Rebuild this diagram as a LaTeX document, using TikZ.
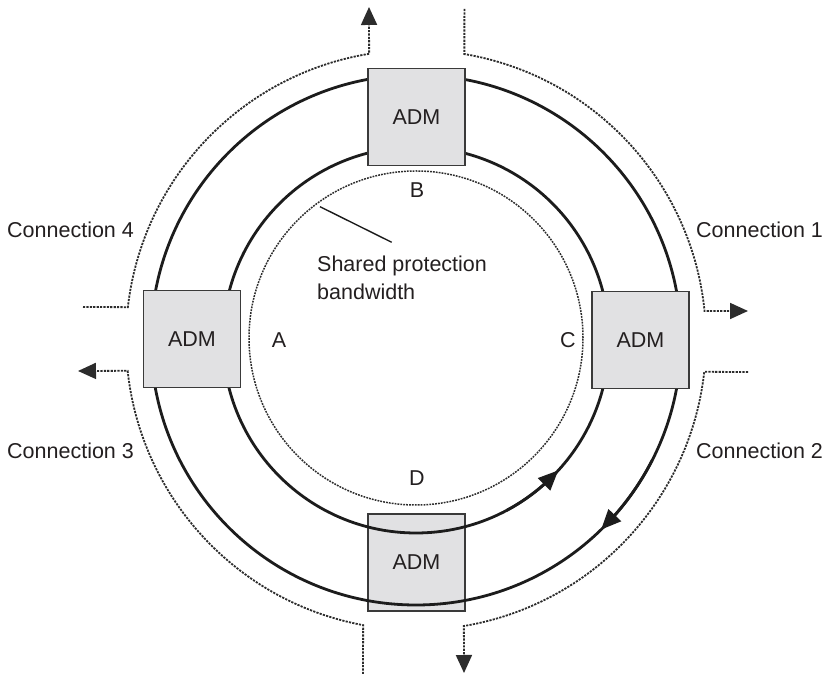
\documentclass[tikz,border=0pt]{standalone}
\usepackage{fontspec}
\setmainfont{Liberation Sans}
\usetikzlibrary{arrows.meta,bending,calc}
\definecolor{boxfill}{HTML}{E1E1E3}
\definecolor{boxline}{HTML}{3A3A3A}
\definecolor{ringcol}{HTML}{1C1C1C}
\definecolor{dotcol}{HTML}{2C2C2C}
\definecolor{textcol}{HTML}{231F20}
\begin{document}
\begin{tikzpicture}[x=1pt,y=1pt,
  ring/.style={line width=2.8pt, draw=ringcol},
  admbox/.style={draw=boxline, line width=1.8pt, fill=boxfill, minimum width=97pt, minimum height=97pt, inner sep=0pt, text=textcol, font=\fontsize{21.5}{25}\selectfont},
  conn/.style={draw=dotcol, line width=1.8pt, dash pattern=on 2.2pt off 1.2pt},
  shared/.style={draw=dotcol, line width=1.5pt, dash pattern=on 1.8pt off 1.1pt},
  lbl/.style={font=\fontsize{21.5}{25}\selectfont, inner sep=0pt, text=textcol},
  tipc/.style={-{Triangle[length=18pt,width=16pt,sep=0pt]}},
  tipr/.style={-{Triangle[length=20pt,width=17pt]}}
]
\useasboundingbox (0,0) rectangle (824,674);
\coordinate (O) at (416,334);
\coordinate (Oi) at (416,336);
% bottom ADM lies under the rings
\node[admbox] (admB) at (416.5,111.5) {};
\draw[ring] (O) circle[radius=265pt];
\draw[ring] (O) circle[radius=193pt];
\node[lbl] at (admB.center) {ADM};
\node[admbox] (admT) at (416.5,557) {ADM};
\node[admbox] (admL) at (192,335) {ADM};
\node[admbox] (admR) at (640.5,334) {ADM};
% shared protection bandwidth circle
\draw[shared] (Oi) circle[radius=167pt];
% connections
\coordinate (c4s) at (83,367);
\coordinate (c4e) at (369,667);
\draw[conn,tipc] (c4s) -- ($(O)+(173.5:290pt)$) arc[start angle=173.5,end angle=99.3,radius=290pt] -- (c4e);
\coordinate (c1s) at (464.4,665);
\coordinate (c1e) at (748,363);
\draw[conn,tipc] (c1s) -- ($(O)+(80.4:290pt)$) arc[start angle=80.4,end angle=5.74,radius=290pt] -- (c1e);
\coordinate (c2s) at (748,302);
\coordinate (c2e) at (464,1);
\draw[conn,tipc] (c2s) -- ($(O)+(-6.3:290pt)$) arc[start angle=-6.3,end angle=-80.5,radius=290pt] -- (c2e);
\coordinate (c3s) at (363,0);
\coordinate (c3e) at (78,303);
\draw[conn,tipc] (c3s) -- ($(O)+(259.5:290pt)$) arc[start angle=259.5,end angle=186.1,radius=290pt] -- (c3e);
% direction arrows on rings
\draw[ring,tipr] ($(O)+(-62:193pt)$) arc[start angle=-62,end angle=-42.5,radius=193pt];
\draw[ring,tipr] ($(O)+(-27:265pt)$) arc[start angle=-27,end angle=-45.7,radius=265pt];
% labels
\node[lbl,anchor=west] (l4) at (7,444) {Connection 4};
\node[lbl,anchor=west] (l1) at (696,444) {Connection 1};
\node[lbl,anchor=west] (l3) at (7,223) {Connection 3};
\node[lbl,anchor=west] (l2) at (696,223) {Connection 2};
\node[lbl] (nB) at (417,484) {B};
\node[lbl] (nA) at (279,334) {A};
\node[lbl] (nC) at (568,334) {C};
\node[lbl] (nD) at (417,196) {D};
\node[lbl,anchor=north west,align=left,font=\fontsize{21.5}{28.3}\selectfont] (sp) at (317,418.7) {Shared protection\\bandwidth};
\coordinate (sp1) at (320,467.3);
\coordinate (sp2) at (391.7,431.7);
\draw[draw=ringcol,line width=1.4pt] (sp1) -- (sp2);
\end{tikzpicture}
\end{document}
